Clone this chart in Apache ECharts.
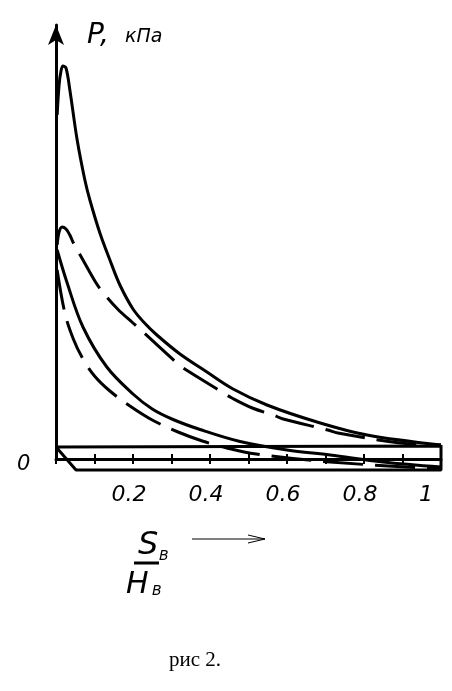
<!DOCTYPE html>
<html>
<head>
<meta charset="utf-8">
<script src="https://cdn.jsdelivr.net/npm/echarts@6/dist/echarts.min.js"></script>
<style>
html, body { margin: 0; padding: 0; background: #fff; }
#chart { width: 452px; height: 691px; }
</style>
</head>
<body>
<div id="chart"></div>
<script>
// S/H (x) and P (y, arbitrary units)
var upperSolid = [
    [0.003, 34.4], [0.008, 37.4], [0.013, 38.8], [0.018, 39.3], [0.026, 39.1],
    [0.036, 36.9], [0.055, 31.9], [0.075, 27.9], [0.088, 25.9], [0.114, 22.6],
    [0.140, 19.9], [0.166, 17.4], [0.200, 15.0], [0.230, 13.6], [0.262, 12.4],
    [0.322, 10.5], [0.392, 8.7], [0.460, 7.0], [0.548, 5.4], [0.678, 3.7],
    [0.808, 2.4], [1.000, 1.4]
];
var upperDashed = [
    [0.003, 21.4], [0.008, 22.7], [0.016, 23.2], [0.026, 23.0], [0.036, 22.4],
    [0.044, 21.7], [0.073, 19.7], [0.101, 17.8], [0.119, 16.8], [0.160, 15.0],
    [0.200, 13.6], [0.226, 12.7], [0.314, 9.6], [0.330, 9.1], [0.431, 6.7],
    [0.457, 6.1], [0.510, 5.1], [0.564, 4.4], [0.590, 4.0], [0.706, 2.9],
    [0.732, 2.6], [0.894, 1.6], [1.000, 1.4]
];
var lowerSolid = [
    [0.003, 20.9], [0.029, 17.6], [0.070, 13.2], [0.132, 9.2], [0.200, 6.5],
    [0.250, 5.0], [0.304, 3.95], [0.374, 2.95], [0.478, 1.75], [0.600, 0.9],
    [0.712, 0.4], [0.849, -0.3], [1.000, -0.8]
];
var lowerDashed = [
    [0.003, 18.9], [0.023, 14.6], [0.045, 12.0], [0.070, 10.0], [0.100, 8.3],
    [0.140, 6.8], [0.192, 5.3], [0.250, 3.9], [0.317, 2.7], [0.380, 1.8],
    [0.444, 1.1], [0.520, 0.5], [0.712, -0.3], [1.000, -1.0]
];
// outline of the flat "tray" under the axis, drawn as one path
var tray = [[1, 1.3], [0, 1.2], [0.052, -1.1], [1, -1.1], [1, 1.4]];
var xLabels = ['0.2', '0.4', '0.6', '0.8', '1'];

var fmt = function (v) { return String(Math.round(v * 10) / 10) };
var font = 'DejaVu Sans';

var chart = echarts.init(document.getElementById('chart'));

function curve(data, dashed, smooth) {
    return {
        type: 'line',
        data: data,
        smooth: smooth,
        showSymbol: false,
        clip: false,
        silent: true,
        lineStyle: { color: '#000', width: 3, type: dashed ? [40, 12] : 'solid' }
    }
}

var option = {
    animation: false,
    backgroundColor: '#fff',
    grid: { left: 56, right: 11, top: 25, bottom: 232 },
    xAxis: [
        {
            type: 'value', min: 0, max: 1, interval: 0.1, position: 'bottom',
            axisLine: { lineStyle: { color: '#000', width: 3 } },
            axisTick: { length: 5, lineStyle: { color: '#000', width: 2 } },
            splitLine: { show: false },
            axisLabel: {
                margin: 25,
                color: '#000',
                fontFamily: font,
                fontStyle: 'italic',
                fontSize: 22,
                padding: [0, 8, 0, 0],
                alignMaxLabel: 'right',
                formatter: function (v) { return xLabels.indexOf(fmt(v)) >= 0 ? fmt(v) : '' }
            }
        },
        {
            type: 'value', min: 0, max: 1, interval: 0.1, position: 'bottom',
            axisLine: { lineStyle: { color: 'rgba(0,0,0,0)', width: 0 } },
            axisTick: { inside: true, length: 5, lineStyle: { color: '#000', width: 2 } },
            splitLine: { show: false },
            axisLabel: { show: false }
        }
    ],
    yAxis: {
        type: 'value', min: 0, max: 43.4,
        axisLine: {
            show: true,
            symbol: ['none', 'arrow'],
            symbolSize: [12, 20],
            lineStyle: { color: '#000', width: 3 }
        },
        axisTick: { show: false },
        axisLabel: { show: false },
        splitLine: { show: false }
    },
    graphic: [
        { type: 'text', x: 87, y: 36, style: { text: 'P,', fontFamily: font, fontStyle: 'italic', fontSize: 28, fill: '#000', verticalAlign: 'middle' } },
        { type: 'text', x: 125, y: 37, style: { text: 'кПа', fontFamily: font, fontStyle: 'italic', fontSize: 19, fill: '#000', verticalAlign: 'middle' } },
        { type: 'text', x: 17, y: 465, style: { text: '0', fontFamily: font, fontStyle: 'italic', fontSize: 21, fill: '#000', verticalAlign: 'middle' } },
        { type: 'text', x: 138, y: 546, style: { text: 'S', fontFamily: font, fontStyle: 'italic', fontSize: 32, fill: '#000', verticalAlign: 'middle' } },
        { type: 'text', x: 159, y: 556, style: { text: 'В', fontFamily: font, fontStyle: 'italic', fontSize: 14, fill: '#000', verticalAlign: 'middle' } },
        { type: 'line', shape: { x1: 134, y1: 563, x2: 159, y2: 563 }, style: { stroke: '#000', lineWidth: 3 } },
        { type: 'text', x: 126, y: 585, style: { text: 'H', fontFamily: font, fontStyle: 'italic', fontSize: 30, fill: '#000', verticalAlign: 'middle' } },
        { type: 'text', x: 152, y: 591, style: { text: 'В', fontFamily: font, fontStyle: 'italic', fontSize: 14, fill: '#000', verticalAlign: 'middle' } },
        { type: 'line', shape: { x1: 192, y1: 539, x2: 265, y2: 539 }, style: { stroke: '#000', lineWidth: 1 } },
        { type: 'polyline', shape: { points: [[248, 535], [265, 539], [248, 543]] }, style: { stroke: '#000', lineWidth: 1, fill: null } },
        { type: 'text', x: 195, y: 660, style: { text: 'рис 2.', fontFamily: 'Liberation Serif', fontSize: 21, fill: '#000', align: 'center', verticalAlign: 'middle' } }
    ],
    series: [
        curve(upperSolid, false, 0.35),
        curve(upperDashed, true, 0.35),
        curve(lowerSolid, false, 0.35),
        curve(lowerDashed, true, 0.35),
        curve(tray, false, false)
    ]
};
chart.setOption(option);
</script>
</body>
</html>
